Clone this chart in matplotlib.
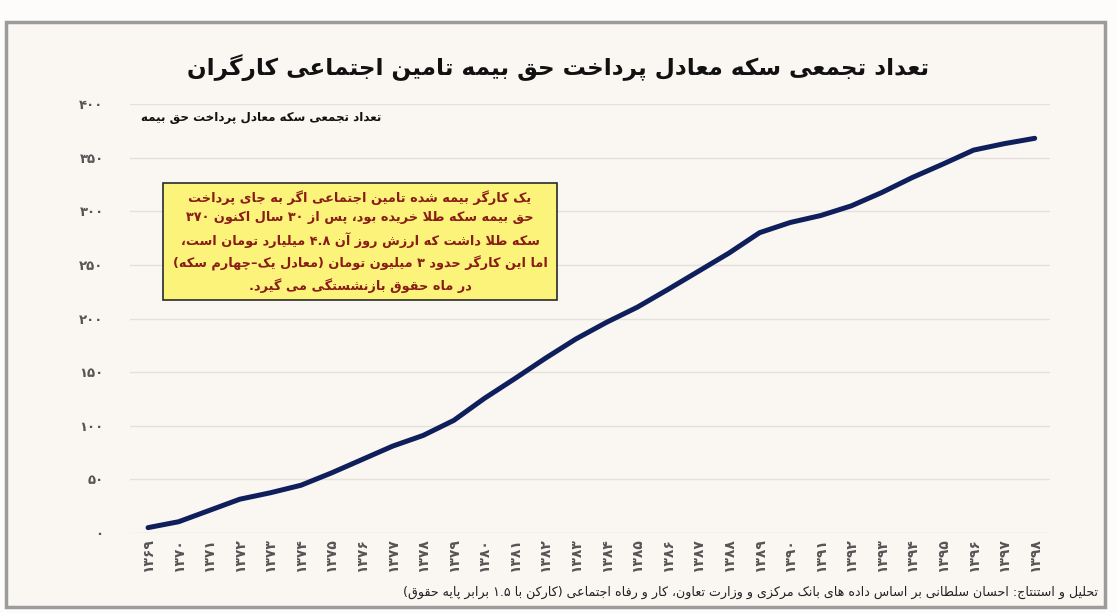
import re
import matplotlib
matplotlib.use('Agg')
import matplotlib.pyplot as plt
from matplotlib.patches import Rectangle

# --- داده ها ---
years = list(range(1369, 1399))
coins = [5, 10.5, 21, 31.5, 37.5, 44.5, 56, 68.5, 81, 91,
         105, 125.5, 144, 163, 181, 196.5, 210.5, 227, 244, 261,
         280, 289.5, 296, 305, 317.5, 331.5, 344, 357, 363, 368]
y_ticks = [0, 50, 100, 150, 200, 250, 300, 350, 400]

title = 'تعداد تجمعی سکه معادل پرداخت حق بیمه تامین اجتماعی کارگران'
y_title = 'تعداد تجمعی سکه معادل پرداخت حق بیمه'
note_lines = [
    'یک کارگر بیمه شده تامین اجتماعی اگر به جای پرداخت',
    'حق بیمه سکه طلا خریده بود، پس از ۳۰ سال اکنون ۳۷۰',
    'سکه طلا داشت که ارزش روز آن ۴.۸ میلیارد تومان است،',
    'اما این کارگر حدود ۳ میلیون تومان (معادل یک–چهارم سکه)',
    'در ماه حقوق بازنشستگی می گیرد.',
]
source = ('تحلیل و استنتاج: احسان سلطانی بر اساس داده های بانک مرکزی و وزارت تعاون، '
          'کار و رفاه اجتماعی (کارکن با ۱.۵ برابر پایه حقوق)')

# --- شکل دهی حروف فارسی (matplotlib خودش این کار را نمی کند) ---
FORMS = {
    'ا': (0xFE8D, 0xFE8E, None, None), 'آ': (0xFE81, 0xFE82, None, None),
    'ب': (0xFE8F, 0xFE90, 0xFE91, 0xFE92), 'ت': (0xFE95, 0xFE96, 0xFE97, 0xFE98),
    'ث': (0xFE99, 0xFE9A, 0xFE9B, 0xFE9C), 'ج': (0xFE9D, 0xFE9E, 0xFE9F, 0xFEA0),
    'ح': (0xFEA1, 0xFEA2, 0xFEA3, 0xFEA4), 'خ': (0xFEA5, 0xFEA6, 0xFEA7, 0xFEA8),
    'د': (0xFEA9, 0xFEAA, None, None), 'ذ': (0xFEAB, 0xFEAC, None, None),
    'ر': (0xFEAD, 0xFEAE, None, None), 'ز': (0xFEAF, 0xFEB0, None, None),
    'ژ': (0xFB8A, 0xFB8B, None, None),
    'س': (0xFEB1, 0xFEB2, 0xFEB3, 0xFEB4), 'ش': (0xFEB5, 0xFEB6, 0xFEB7, 0xFEB8),
    'ص': (0xFEB9, 0xFEBA, 0xFEBB, 0xFEBC), 'ض': (0xFEBD, 0xFEBE, 0xFEBF, 0xFEC0),
    'ط': (0xFEC1, 0xFEC2, 0xFEC3, 0xFEC4), 'ظ': (0xFEC5, 0xFEC6, 0xFEC7, 0xFEC8),
    'ع': (0xFEC9, 0xFECA, 0xFECB, 0xFECC), 'غ': (0xFECD, 0xFECE, 0xFECF, 0xFED0),
    'ف': (0xFED1, 0xFED2, 0xFED3, 0xFED4), 'ق': (0xFED5, 0xFED6, 0xFED7, 0xFED8),
    'ک': (0xFB8E, 0xFB8F, 0xFB90, 0xFB91), 'گ': (0xFB92, 0xFB93, 0xFB94, 0xFB95),
    'ل': (0xFEDD, 0xFEDE, 0xFEDF, 0xFEE0), 'م': (0xFEE1, 0xFEE2, 0xFEE3, 0xFEE4),
    'ن': (0xFEE5, 0xFEE6, 0xFEE7, 0xFEE8), 'ه': (0xFEE9, 0xFEEA, 0xFEEB, 0xFEEC),
    'و': (0xFEED, 0xFEEE, None, None), 'ی': (0xFBFC, 0xFBFD, 0xFBFE, 0xFBFF),
    'پ': (0xFB56, 0xFB57, 0xFB58, 0xFB59), 'چ': (0xFB7A, 0xFB7B, 0xFB7C, 0xFB7D),
}


def dual(c):
    return c in FORMS and FORMS[c][2] is not None


def shape(s):
    out = []
    i = 0
    while i < len(s):
        c = s[i]
        if c not in FORMS:
            out.append(c)
            i += 1
            continue
        prev = s[i - 1] if i > 0 else ''
        nxt = s[i + 1] if i + 1 < len(s) else ''
        cp = dual(prev)
        if c == 'ل' and nxt in ('ا', 'آ'):
            base = 0xFEFB if nxt == 'ا' else 0xFEF5
            out.append(chr(base + 1 if cp else base))
            i += 2
            continue
        cn = dual(c) and nxt in FORMS
        iso, fin, ini, med = FORMS[c]
        g = med if (cp and cn) else fin if cp else ini if cn else iso
        out.append(chr(g))
        i += 1
    return ''.join(out)


MIRROR = {'(': ')', ')': '('}


def rtl(s):
    s = shape(s)
    parts = re.split(r'([0-9۰-۹]+(?:[.٫][0-9۰-۹]+)*)', s)
    res = []
    for p in reversed(parts):
        if re.fullmatch(r'[0-9۰-۹]+(?:[.٫][0-9۰-۹]+)*', p):
            res.append(p)
        else:
            res.append(''.join(MIRROR.get(ch, ch) for ch in reversed(p)))
    return ''.join(res)


def fa_num(n):
    return str(n).translate(str.maketrans('0123456789', '۰۱۲۳۴۵۶۷۸۹'))


plt.rcParams['font.family'] = ['DejaVu Sans']

W, H = 1118, 613
fig = plt.figure(figsize=(W / 100, H / 100), dpi=100)
fig.patch.set_facecolor('#fdfcfa')

# قاب اصلی
fig.add_artist(Rectangle((6 / W, 1 - 607 / H), 1099 / W, 585 / H, transform=fig.transFigure,
                         facecolor='#faf6f1', edgecolor='#9c9c9c', lw=2.5, zorder=0))

ax = fig.add_axes([130 / W, 1 - 533 / H, 920 / W, 429 / H])
ax.set_facecolor('none')
x = list(range(len(years)))
ax.plot(x, coins, color='#0f1f5c', lw=3.6, solid_capstyle='round', solid_joinstyle='round',
        clip_on=False, zorder=3)

ax.set_xlim(-0.59, 29.5)
ax.set_ylim(0, 400)
ax.set_yticks(y_ticks)
ax.set_yticklabels([fa_num(v) for v in y_ticks], fontsize=9.5, color='#555555', fontweight='bold')
ax.set_xticks(x)
ax.set_xticklabels([fa_num(y) for y in years], rotation=90, fontsize=10, color='#555555',
                   fontweight='bold')
ax.tick_params(axis='both', length=0)
ax.tick_params(axis='y', pad=19)
ax.tick_params(axis='x', pad=4)
ax.grid(axis='y', color='#e4e0da', lw=1)
ax.set_axisbelow(True)
for sp in ax.spines.values():
    sp.set_visible(False)

fig.text(558 / W, 1 - 68 / H, rtl(title), ha='center', va='center', fontsize=16.7,
         fontweight='bold', color='#111111')
fig.text(381 / W, 1 - 117 / H, rtl(y_title), ha='right', va='center', fontsize=8.6,
         fontweight='bold', color='#111111')

# کادر توضیح
fig.add_artist(Rectangle((163 / W, 1 - 300 / H), 394 / W, 117 / H, transform=fig.transFigure,
                         facecolor='#fbf37a', edgecolor='#2a2a2a', lw=1.2, zorder=4))
fig.text(360 / W, 1 - 241.5 / H, '\n'.join(rtl(l) for l in note_lines), ha='center', va='center',
         multialignment='center', fontsize=9.3, fontweight='bold', color='#8a1c16',
         linespacing=1.62, zorder=5)

fig.text(1098 / W, 1 - 592 / H, rtl(source), ha='right', va='center', fontsize=9.1,
         color='#222222')

fig.savefig('out.png', dpi=100, facecolor=fig.get_facecolor())
